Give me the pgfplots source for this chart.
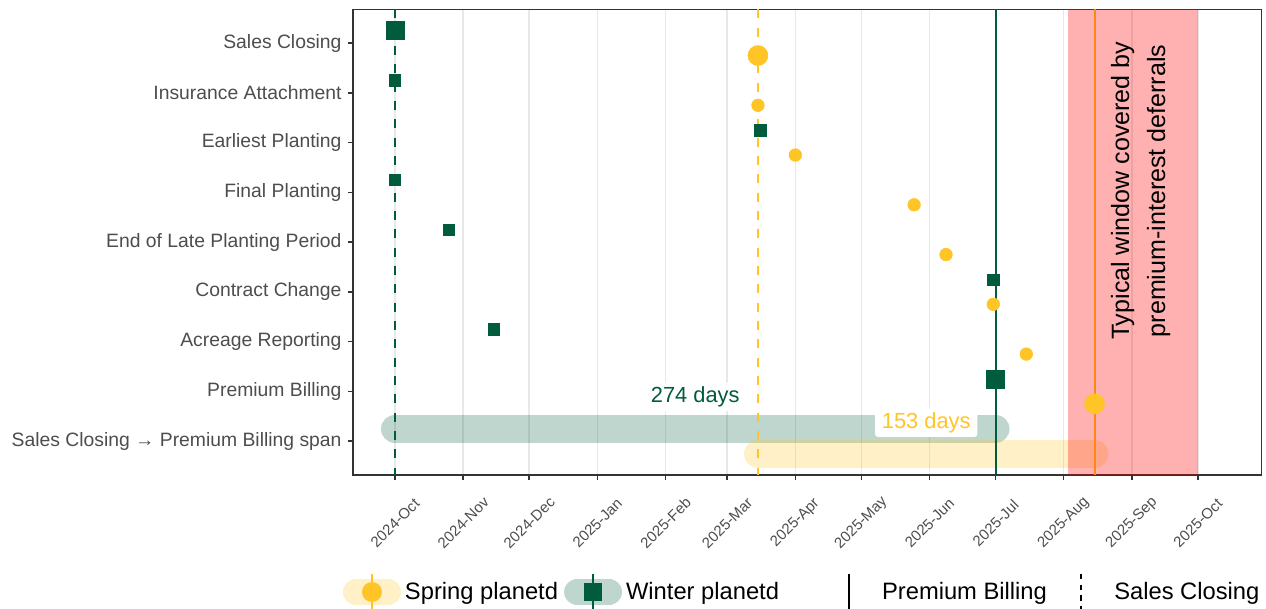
\documentclass[border=0pt]{standalone}
\usepackage{fontspec}
\setmainfont{Liberation Sans}
\usepackage{pgfplots}
\pgfplotsset{compat=1.18}
\usepackage{pgfplotstable}

\definecolor{wgreen}{RGB}{0,92,60}
\definecolor{syellow}{RGB}{255,196,37}
\definecolor{txtgray}{RGB}{77,77,77}
\definecolor{framegray}{RGB}{51,51,51}
\definecolor{gridgray}{RGB}{232,232,232}

% x = days since 2024-10-01 ; y = row (9 = Sales Closing ... 1 = span), winter +0.25, spring -0.25
\pgfplotstableread{
x y
0 8.25
166 7.25
0 6.25
24.5 5.25
272 4.25
45 3.25
}\winterSmall
\pgfplotstableread{
x y
0 9.25
273 2.25
}\winterBig
\pgfplotstableread{
x y
165 7.75
182 6.75
236 5.75
250.5 4.75
272 3.75
287 2.75
}\springSmall
\pgfplotstableread{
x y
165 8.75
318 1.75
}\springBig

\pgfplotsset{
  springkey/.style={legend image code/.code={
    \path[draw=none, fill=none] (0pt,-13.5pt) rectangle (43.5pt,13.5pt);
    \draw[draw=syellow, draw opacity=0.25, line width=20pt, line cap=round] (10pt,0pt) -- (33.5pt,0pt);
    \draw[draw=syellow, line width=1.5pt] (21.75pt,-13.5pt) -- (21.75pt,13.5pt);
    \fill[fill=syellow, draw=none] (21.75pt,0pt) circle (7.5pt);
  }},
  winterkey/.style={legend image code/.code={
    \path[draw=none, fill=none] (0pt,-13.5pt) rectangle (43.5pt,13.5pt);
    \draw[draw=wgreen, draw opacity=0.25, line width=20pt, line cap=round] (10pt,0pt) -- (33.5pt,0pt);
    \draw[draw=wgreen, line width=1.5pt] (21.75pt,-13.5pt) -- (21.75pt,13.5pt);
    \fill[fill=wgreen, draw=none] (15pt,-6.75pt) rectangle (28.5pt,6.75pt);
  }},
  solidkey/.style={legend image code/.code={
    \path[draw=none, fill=none] (0pt,-13.5pt) rectangle (43.5pt,13.5pt);
    \draw[draw=black, line width=1.2pt] (21.75pt,-13.5pt) -- (21.75pt,13.5pt);
  }},
  dashkey/.style={legend image code/.code={
    \path[draw=none, fill=none] (0pt,-13.5pt) rectangle (43.5pt,13.5pt);
    \draw[draw=black, line width=1.2pt, dash pattern=on 4pt off 4pt] (21.75pt,13.5pt) -- (21.75pt,-13.5pt);
  }},
}

\begin{document}
\begin{tikzpicture}
\begin{axis}[
  at={(0pt,0pt)}, anchor=south west,
  scale only axis, width=681.5pt, height=349.3pt,
  xmin=-19.1, xmax=394, ymin=0.32, ymax=9.68,
  axis line style={framegray, line width=1.1pt},
  tick style={framegray, line width=1.1pt},
  tick align=outside, tick pos=left,
  major tick length=3.4pt,
  xtick={0,31,61,92,123,151,182,212,243,273,304,335,365},
  xticklabels={2024-Oct,2024-Nov,2024-Dec,2025-Jan,2025-Feb,2025-Mar,2025-Apr,2025-May,2025-Jun,2025-Jul,2025-Aug,2025-Sep,2025-Oct},
  ytick={1,2,3,4,5,6,7,8,9},
  yticklabels={Sales Closing → Premium Billing span,Premium Billing,Acreage Reporting,Contract Change,End of Late Planting Period,Final Planting,Earliest Planting,Insurance Attachment,Sales Closing},
  xmajorgrids, major grid style={gridgray, line width=1.1pt},
  /pgf/number format/assume math mode=true,
  xticklabel style={font=\fontsize{11.25}{13}\selectfont, text=txtgray, inner sep=0pt, yshift=-32.6pt, rotate=45, anchor=center},
  yticklabel style={font=\fontsize{14.5}{17}\selectfont, text=txtgray, anchor=east, inner sep=0pt, xshift=-5pt},
  legend columns=4, legend cell align=left,
  legend style={at={(0,0)}, anchor=west, xshift=-7.5pt, yshift=-87.75pt,
    draw=none, fill=none, inner sep=0pt, outer sep=0pt, column sep=3pt,
    font=\fontsize{17.8}{21}\selectfont, nodes={inner sep=0pt}},
]
% spans
\addplot[forget plot, wgreen, draw opacity=0.25, line width=21pt, line cap=round] coordinates {(0,1.25) (273,1.25)};
\addplot[forget plot, syellow, draw opacity=0.25, line width=21pt, line cap=round] coordinates {(165,0.75) (318,0.75)};
% points
\addplot[forget plot, only marks, mark=square*, mark size=4.25pt, wgreen, mark options={draw=none}] table {\winterSmall};
\addplot[forget plot, only marks, mark=square*, mark size=6.75pt, wgreen, mark options={draw=none}] table {\winterBig};
\addplot[forget plot, only marks, mark=*, mark size=4.75pt, syellow, mark options={draw=none}] table {\springSmall};
\addplot[forget plot, only marks, mark=*, mark size=7.5pt, syellow, mark options={draw=none}] table {\springBig};
% reference lines
\addplot[forget plot, wgreen, line width=1.7pt, dash pattern=on 6.75pt off 7pt] coordinates {(0,9.68) (0,0.32)};
\addplot[forget plot, syellow, line width=1.7pt, dash pattern=on 6.75pt off 7pt] coordinates {(165,9.68) (165,0.32)};
\addplot[forget plot, wgreen, line width=1.5pt] coordinates {(273,9.68) (273,0.32)};
\addplot[forget plot, syellow, line width=1.5pt] coordinates {(318,9.68) (318,0.32)};
% deferral window
\addplot[forget plot, fill=red, fill opacity=0.31, draw=none] coordinates {(306,9.68) (365,9.68)} \closedcycle;
% labels
\node[fill=white, text=wgreen, font=\fontsize{16.4}{19}\selectfont, inner xsep=5pt, inner ysep=3pt, rounded corners=2pt] at (axis cs:136.5,1.89) {274 days};
\node[fill=white, text=syellow, font=\fontsize{16.4}{19}\selectfont, inner xsep=5pt, inner ysep=3pt, rounded corners=2pt] at (axis cs:241.5,1.37) {153 days};
\node[rotate=90, align=center, font=\fontsize{18.8}{27}\selectfont] at (axis cs:339,6.03) {Typical window covered by\\premium-interest deferrals};
% legend
\addlegendimage{springkey}\addlegendentry{Spring planetd\hspace*{1.5pt}}
\addlegendimage{winterkey}\addlegendentry{Winter planetd\hspace*{27.75pt}}
\addlegendimage{solidkey}\addlegendentry{Premium Billing\hspace*{1pt}}
\addlegendimage{dashkey}\addlegendentry{Sales Closing}
\end{axis}
\pgfresetboundingbox
\path[use as bounding box] (-264.75pt,-100.5pt) rectangle (684.75pt,356.25pt);
\end{tikzpicture}
\end{document}
